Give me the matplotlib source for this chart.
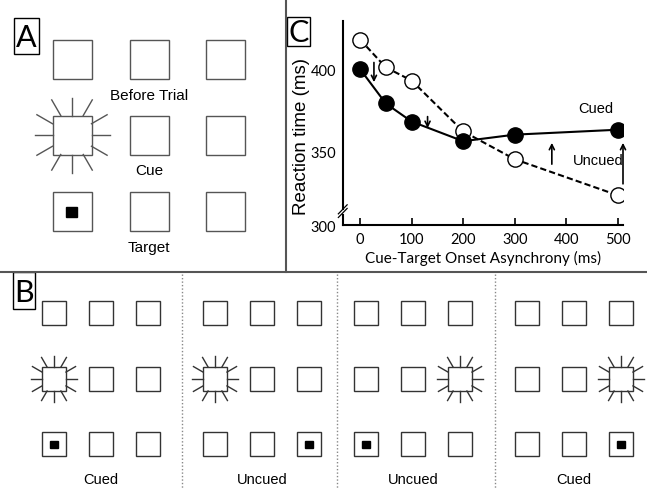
import numpy as np
import matplotlib
matplotlib.use('Agg')
import matplotlib.pyplot as plt
from matplotlib.patches import Rectangle

# panel C data (ms)
soa = [0, 50, 100, 200, 300, 500]
cued_rt = [400, 379, 368, 356, 360, 363]
uncued_rt = [418, 401, 393, 362, 345, 323]

# arrows between curves: x, from, to
arrow_x = [27, 131, 372, 510]
arrow_from = [404, 371, 342, 330]
arrow_to = [392, 364, 355, 355]

xticks = [0, 100, 200, 300, 400, 500]

# panel B conditions: (cue column, target column), middle row cue, bottom row target
b_cue_col = [0, 0, 2, 2]
b_target_col = [0, 2, 0, 2]
b_names = ['Cued', 'Uncued', 'Uncued', 'Cued']

sans = 'Liberation Sans'
gill = 'Lato'

fig = plt.figure(figsize=(6.47, 4.89), dpi=100)
bg = fig.add_axes([0, 0, 1, 1])
bg.set_xlim(0, 647)
bg.set_ylim(489, 0)
bg.axis('off')


def box(cx, cy, s, col='#444444'):
    bg.add_patch(Rectangle((cx - s / 2, cy - s / 2), s, s, fill=False,
                           ec=col, lw=1.0))


def rays(cx, cy, s, L, col='#444444'):
    h = s / 2
    for a in np.deg2rad(np.arange(0, 360, 30)):
        c, si = np.cos(a), np.sin(a)
        t = h / max(abs(c), abs(si))
        x0, y0 = cx + t * c, cy + t * si
        bg.plot([x0, x0 + L * c], [y0, y0 + L * si], color=col, lw=1.0)


def target(cx, cy, w, hh):
    bg.add_patch(Rectangle((cx - w / 2, cy - hh / 2), w, hh, color='black'))


def label_box(x0, y0, x1, y1, letter, fs):
    bg.add_patch(Rectangle((x0, y0), x1 - x0, y1 - y0, fill=False,
                           ec='black', lw=1.0))
    bg.text((x0 + x1) / 2, (y0 + y1) / 2 + 1, letter, ha='center',
            va='center', fontsize=fs, family=gill)


# dividers
bg.plot([0, 647], [273, 273], color='#555555', lw=1.5)
bg.plot([286, 286], [0, 273], color='#555555', lw=1.5)
for xd in [182, 337, 495]:
    bg.plot([xd, xd], [275, 489], color='#888888', lw=1.0, ls=(0, (1, 1.5)))

# panel A
a_cols = [72, 149, 225]
a_rows = [60, 136, 212]
for r in a_rows:
    for c in a_cols:
        box(c, r, 39, '#555555')
rays(a_cols[0], a_rows[1], 39, 18, '#555555')
target(a_cols[0] - 1, a_rows[2] + 1, 11, 10)
bg.text(149, 96, 'Before Trial', ha='center', va='center', fontsize=11, family=sans)
bg.text(149, 171, 'Cue', ha='center', va='center', fontsize=11, family=sans)
bg.text(149, 248, 'Target', ha='center', va='center', fontsize=11, family=sans)
label_box(14, 19, 39, 55, 'A', 22)

# panel B
b_left = [54, 215, 366, 527]
b_off = [0, 47, 94]
b_rows = [314, 380, 445]
for g in range(4):
    for r in b_rows:
        for o in b_off:
            box(b_left[g] + o, r, 24, '#333333')
    rays(b_left[g] + b_off[b_cue_col[g]], b_rows[1], 24, 11, '#333333')
    target(b_left[g] + b_off[b_target_col[g]], b_rows[2], 8, 7)
    bg.text(b_left[g] + b_off[1], 480, b_names[g], ha='center', va='center',
            fontsize=10.5, family=sans)
label_box(13, 273, 35, 310, 'B', 22)

# panel C
label_box(287, 18, 310, 47, 'C', 22)
ax = fig.add_axes([343 / 647, 1 - 226 / 489, 280 / 647, 204 / 489])
ax.patch.set_alpha(0)
ax.set_xlim(-33, 510)
ax.set_ylim(304.9, 429.3)
ax.plot(soa, uncued_rt, color='black', lw=1.5, ls=(0, (3, 1.5)),
        marker='o', ms=11, mfc='white', mec='black', mew=1.0, zorder=3)
ax.plot(soa, cued_rt, color='black', lw=1.5, marker='o', ms=11,
        mfc='black', mec='black', zorder=4)
for xa, y0, y1 in zip(arrow_x, arrow_from, arrow_to):
    ax.annotate('', xy=(xa, y1), xytext=(xa, y0),
                arrowprops=dict(arrowstyle='->', lw=1.2, color='black',
                                shrinkA=0, shrinkB=0, mutation_scale=9),
                annotation_clip=False)
ax.text(458, 376, 'Cued', ha='center', va='center', fontsize=10.5, family=sans)
ax.text(462, 344.5, 'Uncued', ha='center', va='center', fontsize=10.5, family=sans)

for s in ['top', 'right']:
    ax.spines[s].set_visible(False)
ax.spines['left'].set_bounds(314.5, 429.3)
ax.spines['left'].set_linewidth(1.5)
ax.spines['bottom'].set_linewidth(1.5)
ax.plot([-33, -33], [304.9, 311], color='black', lw=1.5, clip_on=False)
for dy in [0, 2.2]:
    ax.plot([-42, -25], [309.5 + dy, 315 + dy], color='black', lw=0.9,
            clip_on=False)

ax.set_xticks(xticks)
ax.set_xticklabels([str(t) for t in xticks], family=gill, fontsize=10.5)
ax.set_yticks([304.9, 350, 400])
ax.set_yticklabels(['300', '350', '400'], family=gill, fontsize=10.5)
ax.tick_params(axis='x', direction='in', length=5, width=1.2, pad=5)
ax.tick_params(axis='y', length=0, pad=5)
ax.set_xlabel('Cue-Target Onset Asynchrony (ms)', family=gill, fontsize=11,
              labelpad=3)
ax.set_ylabel('Reaction time (ms)', family=sans, fontsize=13.5)
ax.yaxis.set_label_coords(-0.118, 0.44)

fig.savefig('out.png', dpi=100)
